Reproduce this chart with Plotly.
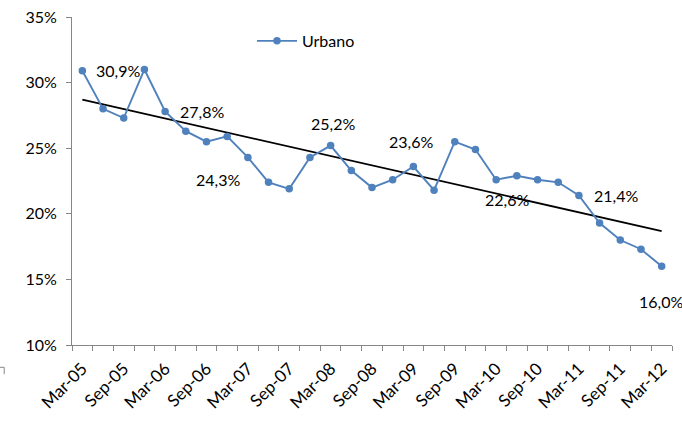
import numpy as np
import plotly.graph_objects as go

categories = []
for yr in range(5, 13):
    for m in ["Mar", "Jun", "Sep", "Dec"]:
        categories.append(f"{m}-{yr:02d}")
categories = categories[:29]

urbano = [30.9, 28.0, 27.3, 31.0, 27.8, 26.3, 25.5, 25.9, 24.3, 22.4,
          21.9, 24.3, 25.2, 23.3, 22.0, 22.6, 23.6, 21.8, 25.5, 24.9,
          22.6, 22.9, 22.6, 22.4, 21.4, 19.3, 18.0, 17.3, 16.0]

tick_text = [c if i % 2 == 0 else "" for i, c in enumerate(categories)]

# labelled points: index -> (xshift, yshift)
label_idx = [0, 4, 8, 12, 16, 20, 24, 28]
label_shift = {0: (36, 0), 4: (37, 0), 8: (-30, -22), 12: (2, 22),
               16: (-2, 25), 20: (11, -20), 24: (37, 0), 28: (-1, -35)}

xi = np.arange(len(urbano))
slope, intercept = np.polyfit(xi, urbano, 1)
trend = slope * xi + intercept

FONT = "Lato"
fig = go.Figure()
fig.add_trace(go.Scatter(x=categories, y=trend, mode="lines",
                         line=dict(color="black", width=1.8),
                         showlegend=False, hoverinfo="skip"))
fig.add_trace(go.Scatter(x=categories, y=urbano, mode="lines+markers",
                         name="Urbano",
                         line=dict(color="#4F81BD", width=1.9),
                         marker=dict(color="#4F81BD", size=7.5)))

for i in label_idx:
    dx, dy = label_shift[i]
    fig.add_annotation(x=categories[i], y=urbano[i], xref="x", yref="y",
                       text=f"{urbano[i]:.1f}%".replace(".", ","),
                       showarrow=False, xshift=dx, yshift=dy,
                       font=dict(family=FONT, size=16, color="black"))

# small stray corner mark at bottom-left of the reference
fig.add_shape(type="path", xref="paper", yref="paper",
              path="M -0.12,-0.068 L -0.113,-0.068 L -0.113,-0.089",
              line=dict(color="#868686", width=1))

fig.update_layout(
    width=682, height=423,
    margin=dict(l=72, r=10, t=17, b=78, autoexpand=False),
    paper_bgcolor="white", plot_bgcolor="white",
    font=dict(family=FONT, size=16, color="black"),
    legend=dict(x=0.30, y=0.927, xanchor="left", yanchor="middle",
                itemwidth=40,
                bgcolor="rgba(0,0,0,0)", font=dict(size=16)),
    xaxis=dict(type="category", tickmode="array", tickvals=categories,
               ticktext=tick_text, tickson="boundaries", tickangle=-45,
               ticks="outside", ticklen=5, tickcolor="#868686",
               ticklabelstandoff=6, automargin=False,
               tickfont=dict(size=17),
               showline=True, linecolor="#868686", linewidth=1,
               showgrid=False, zeroline=False, range=[-0.5, 28.5]),
    yaxis=dict(range=[10, 35], tickvals=[10, 15, 20, 25, 30, 35],
               ticktext=["10%", "15%", "20%", "25%", "30%", "35%"],
               ticks="outside", ticklen=5, tickcolor="#868686",
               ticklabelstandoff=6, automargin=False,
               showline=True, linecolor="#868686", linewidth=1,
               showgrid=False, zeroline=False),
)

fig.write_html("out.html", config={"displayModeBar": False},
               post_script="document.body.style.margin='0';")
